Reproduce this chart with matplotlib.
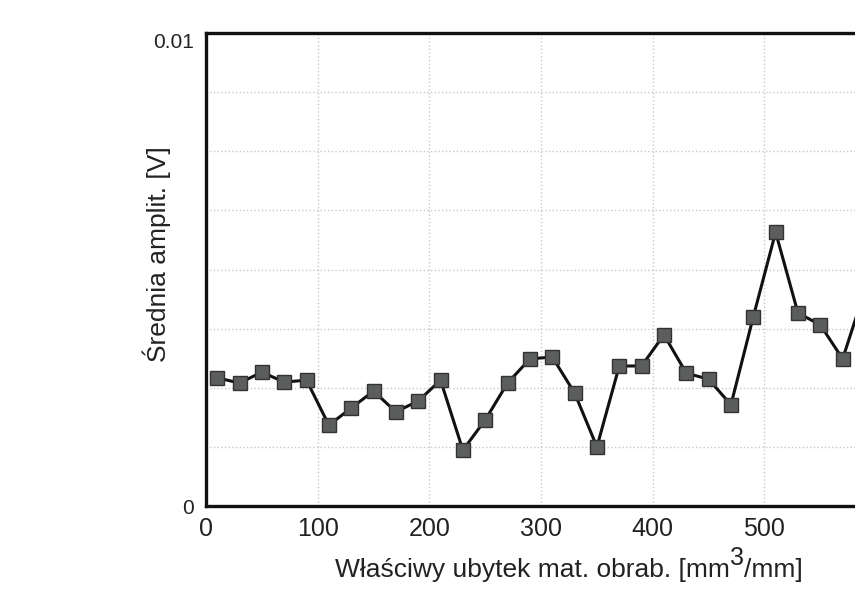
import numpy as np
import matplotlib
matplotlib.use('Agg')
import matplotlib.pyplot as plt

# specific material removal [mm3/mm] and mean amplitude [V]
ubytek = [10, 30, 50, 70, 90, 110, 130, 150, 170, 190, 210, 230, 250, 270, 290,
          310, 330, 350, 370, 390, 410, 430, 450, 470, 490, 510, 530, 550, 570, 590]
amplituda = [0.00271, 0.00260, 0.00283, 0.00262, 0.00266, 0.00171, 0.00207, 0.00243,
             0.00199, 0.00222, 0.00266, 0.00118, 0.00182, 0.00260, 0.00311, 0.00315,
             0.00239, 0.00125, 0.00296, 0.00296, 0.00362, 0.00281, 0.00268, 0.00214,
             0.00400, 0.00579, 0.00408, 0.00383, 0.00311, 0.00457]

W, H = 855, 595
txt_color = '#222222'

plt.rc('font', family=['Liberation Sans', 'DejaVu Sans'])
fig = plt.figure(figsize=(W / 100, H / 100), dpi=100)
# axes runs past the right border of the figure
ax = fig.add_axes([206 / W, 89 / H, 726 / W, 473 / H])

ax.plot(ubytek, amplituda, '-', color='#111111', lw=2.2, marker='s', ms=10,
        mfc='#5c5e5e', mec='#333333', mew=1.0, zorder=3, clip_on=False)

ax.set_xlim(0, 650)
ax.set_ylim(0, 0.01)
ax.set_xticks(np.arange(0, 700, 100))
yt = np.linspace(0, 0.01, 9)
ax.set_yticks(yt)
ax.set_yticklabels(['0'] + [''] * 7 + ['0.01'])
ax.tick_params(length=0)
ax.tick_params(axis='x', labelsize=18, colors=txt_color, pad=8)
ax.tick_params(axis='y', labelsize=15, colors=txt_color, pad=9)
ax.get_yticklabels()[-1].set_verticalalignment('top')
ax.grid(True, color='#c8c8c8', ls=':', lw=1.0)

for s in ['top', 'left', 'bottom']:
    ax.spines[s].set_linewidth(2.4)
    ax.spines[s].set_color('#111111')
ax.spines['right'].set_visible(False)

# y label
fig.text(157 / W, 1 - 254 / H, 'Średnia amplit. [V]', rotation=90,
         ha='center', va='center', fontsize=19, color=txt_color)

# x label built from pieces so the superscript stays large
fig.canvas.draw()
r = fig.canvas.get_renderer()
parts = [('Właściwy ubytek mat. obrab. [mm', 19, 0),
         ('3', 18, 12),
         ('/mm]', 19, 0)]
texts = [fig.text(0, 0, s, fontsize=fs, color=txt_color, va='baseline')
         for s, fs, _ in parts]
widths = [t.get_window_extent(r).width for t in texts]
x = 569 - sum(widths) / 2
base = H - 577
for t, w, (_, _, dy) in zip(texts, widths, parts):
    t.set_position((x / W, (base + dy) / H))
    x += w

fig.savefig('out.png', dpi=100)
